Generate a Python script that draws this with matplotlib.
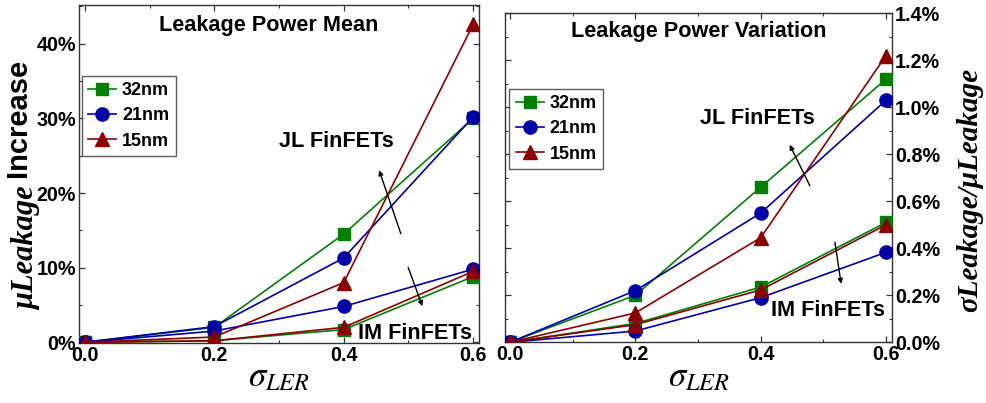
import matplotlib
matplotlib.use("Agg")
import matplotlib.pyplot as plt
from matplotlib.ticker import MultipleLocator, FuncFormatter

plt.rcParams['font.family'] = ['Liberation Sans', 'DejaVu Sans']
plt.rcParams['mathtext.fontset'] = 'stix'

# ---------------- data ----------------
sigma_ler = [0.0, 0.2, 0.4, 0.6]
nodes = ['32nm', '21nm', '15nm']

# Leakage power mean increase (%)
mean_jl_32 = [0.0, 2.0, 14.5, 30.0]
mean_jl_21 = [0.0, 2.1, 11.3, 30.2]
mean_jl_15 = [0.0, 0.7, 8.0, 42.6]
mean_im_32 = [0.0, 0.2, 1.7, 8.8]
mean_im_21 = [0.0, 1.5, 4.8, 9.8]
mean_im_15 = [0.0, 0.2, 2.0, 9.5]

# Leakage power variation sigma/mu (%)
var_jl_32 = [0.0, 0.20, 0.66, 1.12]
var_jl_21 = [0.0, 0.22, 0.55, 1.03]
var_jl_15 = [0.0, 0.125, 0.445, 1.22]
var_im_32 = [0.0, 0.08, 0.235, 0.51]
var_im_21 = [0.0, 0.048, 0.19, 0.383]
var_im_15 = [0.0, 0.075, 0.223, 0.50]

colors = ['#008000', '#0000a8', '#8b0000']
markers = ['s', 'o', '^']
msizes = [8.5, 9.5, 9.5]

fig = plt.figure(figsize=(9.86, 4.03), dpi=100)
axL = fig.add_axes([79/986, (403-343)/403, 400/986, 338/403])
axR = fig.add_axes([505/986, (403-342.3)/403, 387.3/986, 329/403])

spine_col = '#333333'
TXT = 15.6

def style(ax):
    for s in ax.spines.values():
        s.set_color(spine_col)
        s.set_linewidth(1.0)
    ax.tick_params(which='both', direction='in', top=True, right=True,
                   left=True, bottom=True, color=spine_col)
    ax.tick_params(which='major', length=4, width=0.9, labelsize=14.2, pad=2)
    ax.tick_params(which='minor', length=2.5, width=0.8)
    ax.xaxis.set_major_locator(MultipleLocator(0.2))
    ax.xaxis.set_minor_locator(MultipleLocator(0.1))
    ax.xaxis.set_major_formatter(FuncFormatter(lambda v, p: f'{v:.1f}'))
    for lab in ax.get_xticklabels() + ax.get_yticklabels():
        lab.set_fontweight('bold')

def plot_set(ax, jl, im):
    handles = []
    for i in range(3):
        h, = ax.plot(sigma_ler, jl[i], color=colors[i], marker=markers[i],
                     markersize=msizes[i], lw=1.2, mec=colors[i], mfc=colors[i],
                     label=nodes[i], zorder=3)
        ax.plot(sigma_ler, im[i], color=colors[i], marker=markers[i],
                markersize=msizes[i], lw=1.2, mec=colors[i], mfc=colors[i],
                zorder=3)
        handles.append(h)
    return handles

def legend(ax, handles, anchor):
    leg = ax.legend(handles=handles, loc='upper left', bbox_to_anchor=anchor,
                    prop=dict(size=13, weight='bold'), frameon=True,
                    fancybox=False, edgecolor=spine_col, handlelength=1.55,
                    handletextpad=0.33, borderpad=0.35, labelspacing=0.45,
                    borderaxespad=0)
    leg.get_frame().set_linewidth(1.0)
    return leg

arrow_kw = dict(arrowstyle='-|>', color='black', lw=1.0, mutation_scale=7)

# ---------------- left panel ----------------
hL = plot_set(axL, [mean_jl_32, mean_jl_21, mean_jl_15],
              [mean_im_32, mean_im_21, mean_im_15])
axL.set_xlim(-0.009, 0.609)
axL.set_ylim(-0.1, 45.2)
axL.yaxis.set_major_locator(MultipleLocator(10))
axL.yaxis.set_minor_locator(MultipleLocator(5))
axL.yaxis.set_major_formatter(FuncFormatter(lambda v, p: f'{v:.0f}%'))
style(axL)
axL.text(0.475, 0.94, 'Leakage Power Mean', transform=axL.transAxes,
         ha='center', va='center', fontsize=TXT, fontweight='bold')
axL.text(0.388, 26.9, 'JL FinFETs', ha='center', va='center',
         fontsize=TXT, fontweight='bold')
axL.text(0.510, 1.2, 'IM FinFETs', ha='center', va='center',
         fontsize=TXT, fontweight='bold')
axL.annotate('', xy=(0.4534, 23.4), xytext=(0.4896, 14.2), arrowprops=arrow_kw)
axL.annotate('', xy=(0.523, 4.5), xytext=(0.498, 10.4), arrowprops=arrow_kw)
legend(axL, hL, (0.007, 0.79))
axL.set_xlabel(r'$\sigma_{LER}$', fontsize=25, labelpad=-3)

fig.text(18/986, 1 - 118/403, 'Increase', rotation=90, ha='center',
         va='center', fontsize=21, fontweight='bold')
fig.text(27/986, 1 - 248/403, 'μLeakage', rotation=90, ha='center',
         va='center', fontsize=22, fontweight='bold', style='italic',
         family=['Liberation Serif', 'DejaVu Serif'])

# ---------------- right panel ----------------
hR = plot_set(axR, [var_jl_32, var_jl_21, var_jl_15],
              [var_im_32, var_im_21, var_im_15])
axR.set_xlim(-0.008, 0.61)
axR.set_ylim(0, 1.4)
axR.yaxis.set_major_locator(MultipleLocator(0.2))
axR.yaxis.set_minor_locator(MultipleLocator(0.1))
axR.yaxis.set_major_formatter(FuncFormatter(lambda v, p: f'{v:.1f}%'))
style(axR)
axR.tick_params(axis='y', which='both', labelleft=False, labelright=True)
for lab in axR.get_yticklabels():
    lab.set_fontweight('bold')
axR.text(0.499, 0.944, 'Leakage Power Variation', transform=axR.transAxes,
         ha='center', va='center', fontsize=TXT, fontweight='bold')
axR.text(0.394, 0.953, 'JL FinFETs', ha='center', va='center',
         fontsize=TXT, fontweight='bold')
axR.text(0.508, 0.137, 'IM FinFETs', ha='center', va='center',
         fontsize=TXT, fontweight='bold')
axR.annotate('', xy=(0.4443, 0.851), xytext=(0.4805, 0.655), arrowprops=arrow_kw)
axR.annotate('', xy=(0.529, 0.237), xytext=(0.5178, 0.438), arrowprops=arrow_kw)
legend(axR, hR, (0.011, 0.77))
axR.set_xlabel(r'$\sigma_{LER}$', fontsize=25, labelpad=-3)

fig.text(970/986, 1 - 190/403, 'σLeakage/μLeakage', rotation=90, ha='center',
         va='center', fontsize=21, fontweight='bold', style='italic',
         family=['Liberation Serif', 'DejaVu Serif'])

fig.savefig('out.png', dpi=100)
